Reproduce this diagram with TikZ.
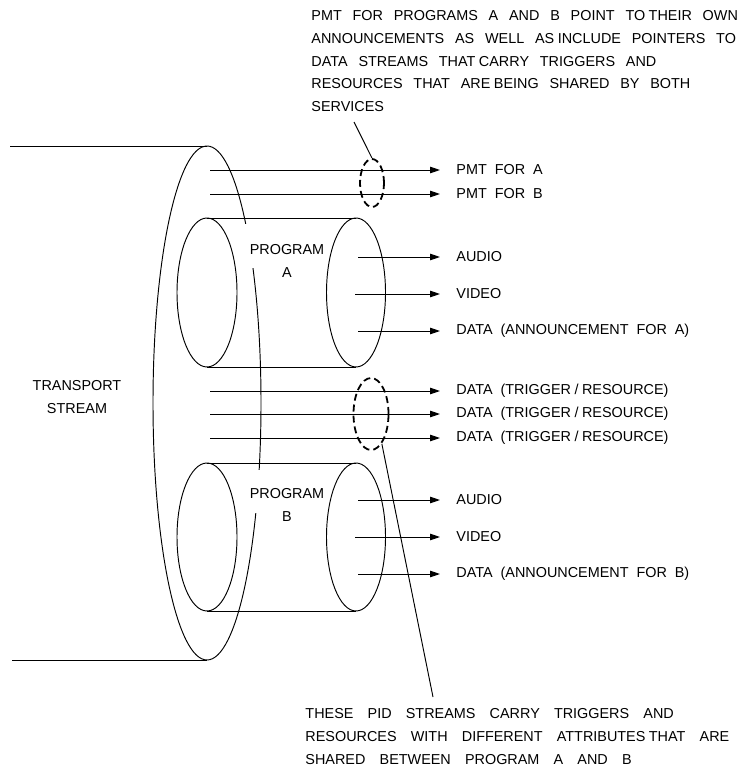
\documentclass[tikz,border=0pt]{standalone}
\usepackage{fontspec}
\setmainfont{Liberation Sans}
\usetikzlibrary{arrows.meta,shapes.geometric}
\newcommand\nsp{\hspace{3.5pt}}
\newcommand\lblfont{\fontsize{14.4}{22.8}\selectfont\spaceskip=7.9pt\relax}
\newcommand\notefont{\fontsize{14.4}{22.8}\selectfont\spaceskip=10.8pt\relax}
\newcommand\pidfont{\fontsize{14.4}{22.8}\selectfont\spaceskip=14.2pt\relax}
\tikzset{
  lbl/.style={anchor=west,inner sep=0pt,font=\lblfont},
  note/.style={anchor=north west,inner sep=0pt,align=left,font=\notefont},
  prog/.style={inner sep=0pt,align=center,font=\fontsize{14.4}{23}\selectfont},
  flow/.style={-{Triangle[length=10pt,width=6.5pt]},shorten >=16pt},
  ring/.style={draw,ellipse,inner sep=0pt,line width=1.8pt,dash pattern=on 7pt off 4pt}
}

\begin{document}
\begin{tikzpicture}[x=1pt,y=-1pt,line width=0.95pt]
\useasboundingbox (0,0) rectangle (742,773);
% transport stream
\draw (10,146) -- (207,146);
\draw (12,660) -- (207,660);
\draw (207,403) ellipse [x radius=54pt,y radius=257pt];
\fill[white] (243,224) rectangle (259,268);
\fill[white] (249,470) rectangle (266,513);
\node[prog] (ts) at (77,397) {TRANSPORT\\STREAM};
% program A
\draw (207,292.5) ellipse [x radius=30pt,y radius=74.5pt];
\draw (356,292.5) ellipse [x radius=29.5pt,y radius=74.5pt];
\draw (207,218) -- (356,218);
\draw (207,367) -- (356,367);
\node[prog] (progA) at (287,260.5) {PROGRAM\\A};
% program B
\draw (207,537) ellipse [x radius=30pt,y radius=74pt];
\draw (356,537) ellipse [x radius=29.5pt,y radius=74pt];
\draw (207,463) -- (356,463);
\draw (207,611) -- (356,611);
\node[prog] (progB) at (287,504.5) {PROGRAM\\B};
% PMT streams
\coordinate (pmtAs) at (210,170); \coordinate (pmtBs) at (210,194);
\node[lbl] (pmtA) at (456,170) {PMT FOR A};
\node[lbl] (pmtB) at (456,194) {PMT FOR B};
\draw[flow] (pmtAs) -- (pmtAs -| pmtA.west);
\draw[flow] (pmtBs) -- (pmtBs -| pmtB.west);
% elementary streams of A
\coordinate (audAs) at (358,257); \coordinate (vidAs) at (355,294); \coordinate (datAs) at (358,331);
\node[lbl] (audA) at (456,257) {AUDIO};
\node[lbl] (vidA) at (456,294) {VIDEO};
\node[lbl] (datA) at (456,331) {DATA (ANNOUNCEMENT FOR A)};
\draw[flow] (audAs) -- (audAs -| audA.west);
\draw[flow] (vidAs) -- (vidAs -| vidA.west);
\draw[flow] (datAs) -- (datAs -| datA.west);
% shared trigger / resource streams
\coordinate (trgAs) at (210,391); \coordinate (trgBs) at (210,414); \coordinate (trgCs) at (210,438);
\node[lbl] (trgA) at (456,391) {DATA (TRIGGER\nsp/\nsp RESOURCE)};
\node[lbl] (trgB) at (456,414) {DATA (TRIGGER\nsp/\nsp RESOURCE)};
\node[lbl] (trgC) at (456,438) {DATA (TRIGGER\nsp/\nsp RESOURCE)};
\draw[flow] (trgAs) -- (trgAs -| trgA.west);
\draw[flow] (trgBs) -- (trgBs -| trgB.west);
\draw[flow] (trgCs) -- (trgCs -| trgC.west);
% elementary streams of B
\coordinate (audBs) at (358,500); \coordinate (vidBs) at (355,537); \coordinate (datBs) at (358,574);
\node[lbl] (audB) at (456,500) {AUDIO};
\node[lbl] (vidB) at (456,537) {VIDEO};
\node[lbl] (datB) at (456,574) {DATA (ANNOUNCEMENT FOR B)};
\draw[flow] (audBs) -- (audBs -| audB.west);
\draw[flow] (vidBs) -- (vidBs -| vidB.west);
\draw[flow] (datBs) -- (datBs -| datB.west);
% dashed rings and callouts
\node[ring,minimum width=24pt,minimum height=48pt] (pmtring) at (372,183) {};
\node[ring,minimum width=35pt,minimum height=72pt] (pidring) at (371,414) {};
\node[note] (pmtnote) at (311,10) {PMT FOR PROGRAMS A AND B POINT TO\nsp THEIR OWN\\
  ANNOUNCEMENTS AS WELL AS\nsp INCLUDE POINTERS TO\\
  DATA STREAMS THAT\nsp CARRY TRIGGERS AND\\
  RESOURCES THAT ARE\nsp BEING SHARED BY BOTH\\
  SERVICES};
\node[note,font=\pidfont] (pidnote) at (305,708) {THESE PID STREAMS CARRY TRIGGERS AND\\
  RESOURCES WITH DIFFERENT ATTRIBUTES\nsp THAT ARE\\
  SHARED BETWEEN PROGRAM A AND B};
\coordinate (pmtptr) at (354,122);
\coordinate (pidptr) at (433,697);
\draw (pmtptr) -- (pmtring.north);
\draw (pidptr) -- (pidring.-70);
\end{tikzpicture}
\end{document}
